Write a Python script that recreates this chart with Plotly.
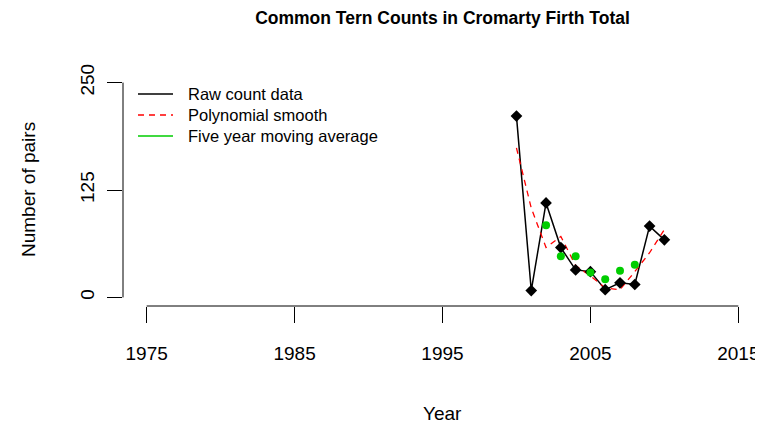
import plotly.graph_objects as go

# counts
years = [2000, 2001, 2002, 2003, 2004, 2005, 2006, 2007, 2008, 2009, 2010]
raw_counts = [211, 8, 110, 58, 32, 30, 9, 17, 15, 83, 67]
poly_smooth = [174, 104, 58, 71, 37, 25, 11, 9, 30, 52, 79]
ma_years = [2002, 2003, 2004, 2005, 2006, 2007, 2008]
moving_avg = [84, 48, 48, 29, 21, 31, 38]

x_ticks = [1975, 1985, 1995, 2005, 2015]
y_ticks = [0, 125, 250]

legend_labels = ["Raw count data", "Polynomial smooth", "Five year moving average"]

FONT = "Liberation Sans"
GREEN = "#00CD00"
DASH = "6px,5px"
legend_colors = ["black", "red", GREEN]
legend_dash = ["solid", DASH, "solid"]

# page body has an 8px margin, so the figure is a bit smaller than the window
W, H = 755, 418
L, R, T, B = 115, 1, 66, 120
pw, ph = W - L - R, H - T - B


def px(xp):
    return (xp - L) / pw


def py(yp):
    return (H - B - yp) / ph


fig = go.Figure()

fig.add_trace(go.Scatter(
    x=years, y=raw_counts, mode="lines",
    line=dict(color="black", width=1.5),
))
fig.add_trace(go.Scatter(
    x=years, y=poly_smooth, mode="lines",
    line=dict(color="red", width=1.3, dash=DASH),
))
fig.add_trace(go.Scatter(
    x=years, y=raw_counts, mode="markers",
    marker=dict(symbol="diamond", size=9, color="black"),
))
fig.add_trace(go.Scatter(
    x=ma_years, y=moving_avg, mode="markers",
    marker=dict(symbol="circle", size=8, color=GREEN),
))

# R-style axis lines that only run between the outer ticks
fig.add_shape(type="line", xref="x", yref="paper",
              x0=x_ticks[0], x1=x_ticks[-1], y0=0, y1=0,
              line=dict(color="black", width=1))
fig.add_shape(type="line", xref="paper", yref="y",
              x0=0, x1=0, y0=y_ticks[0], y1=y_ticks[-1],
              line=dict(color="black", width=1))

# legend drawn by hand (R legend, no box)
for i, lab in enumerate(legend_labels):
    yy = py(86 + 21 * i)
    fig.add_shape(type="line", xref="paper", yref="paper",
                  x0=px(130), x1=px(165), y0=yy, y1=yy,
                  line=dict(color=legend_colors[i], width=1.3,
                            dash=legend_dash[i]))
    fig.add_annotation(text=lab, xref="paper", yref="paper",
                       x=px(178), y=yy, xanchor="left", yanchor="middle",
                       showarrow=False,
                       font=dict(family=FONT, size=16.5, color="black"))

fig.add_annotation(text="Year", xref="paper", yref="paper", x=0.5, y=py(405),
                   xanchor="center", yanchor="middle", showarrow=False,
                   font=dict(family=FONT, size=19, color="black"))
fig.add_annotation(text="Number of pairs", xref="paper", yref="paper",
                   x=px(20), y=0.5, textangle=-90,
                   xanchor="center", yanchor="middle", showarrow=False,
                   font=dict(family=FONT, size=19, color="black"))

fig.update_layout(
    width=W, height=H,
    margin=dict(l=L, r=R, t=T, b=B),
    paper_bgcolor="white", plot_bgcolor="white",
    showlegend=False,
    title=dict(text="<b>Common Tern Counts in Cromarty Firth Total</b>",
               x=0.5, xref="paper", xanchor="center",
               y=1 - 9.5 / H, yanchor="middle",
               font=dict(family=FONT, size=17.5, color="black")),
    xaxis=dict(range=[1973.4, 2016.6], tickvals=x_ticks,
               ticks="outside", ticklen=16, tickwidth=1, tickcolor="black",
               showline=False, showgrid=False, zeroline=False,
               ticklabelstandoff=14, ticklabeloverflow="allow",
               tickfont=dict(family=FONT, size=19, color="black")),
    yaxis=dict(range=[-10, 260], tickvals=y_ticks, tickangle=-90,
               ticks="outside", ticklen=15, tickwidth=1, tickcolor="black",
               showline=False, showgrid=False, zeroline=False,
               ticklabelstandoff=5,
               tickfont=dict(family=FONT, size=19, color="black")),
)

fig.write_html("out.html")
